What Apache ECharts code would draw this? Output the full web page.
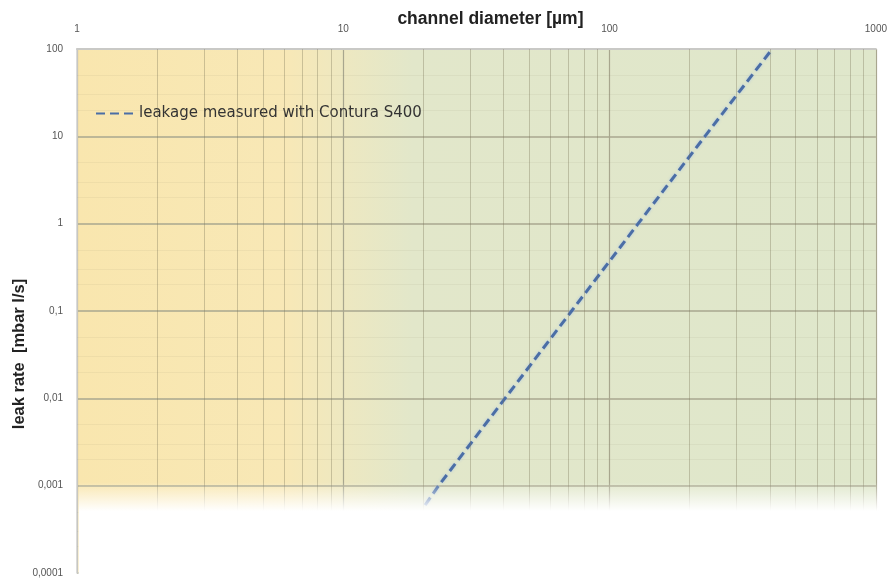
<!DOCTYPE html>
<html>
<head>
<meta charset="utf-8">
<script src="https://cdn.jsdelivr.net/npm/echarts@6/dist/echarts.min.js"></script>
<style>
  html, body { margin: 0; padding: 0; background: #fff; }
  #chart { width: 890px; height: 578px; }
</style>
</head>
<body>
<div id="chart"></div>
<script>
// leak rate vs channel diameter
const diameter = [20.3, 22.8, 40.5, 72, 128, 228, 408];
const leakRate = [0.0006, 0.001, 0.01, 0.1, 1, 10, 100];
const seriesName = 'leakage measured with Contura S400';

// axis ticks
const xTicks = [1, 10, 100, 1000];
const yTicks = [0.0001, 0.001, 0.01, 0.1, 1, 10, 100];
const yTickLabels = ['0,0001', '0,001', '0,01', '0,1', '1', '10', '100'];

// minor grid lines
const xMinor = [2, 3, 4, 5, 6, 7, 8, 9, 20, 30, 40, 50, 60, 70, 80, 90, 200, 300, 400, 500, 600, 700, 800, 900];
const yMinor = [0.0002, 0.0003, 0.0005, 0.002, 0.003, 0.005, 0.02, 0.03, 0.05, 0.2, 0.3, 0.5, 2, 3, 5, 20, 30, 50];

// shaded band bottom and fade range
const shadeBottom = 0.0004;
const fadeFrom = 0.0011;
const fadeTo = 0.00052;

const chart = echarts.init(document.getElementById('chart'));

const sameLog = (a, b) => Math.abs(Math.log10(a) - Math.log10(b)) < 1e-6;

const minorLines = [];
xMinor.forEach(x => {
  minorLines.push([{ coord: [x, shadeBottom] }, { coord: [x, 100] }]);
});
const minorLinesY = [];
yMinor.forEach(y => {
  minorLinesY.push([{ coord: [1, y] }, { coord: [1000, y] }]);
});

const option = {
  animation: false,
  grid: {
    left: 77,
    right: 13,
    top: 49,
    bottom: 4,
    show: true,
    borderWidth: 0,
    backgroundColor: new echarts.graphic.LinearGradient(0, 0, 1, 0, [
      { offset: 0, color: '#f9e6ae' },
      { offset: 0.26, color: '#f8e8b6' },
      { offset: 0.33, color: '#eee8c0' },
      { offset: 0.42, color: '#e2e7ca' },
      { offset: 1, color: '#dfe7cb' }
    ])
  },
  legend: {
    data: [seriesName],
    left: 90,
    top: 101,
    itemWidth: 38,
    itemHeight: 12,
    itemStyle: { opacity: 0 },
    textStyle: { fontFamily: 'DejaVu Sans', fontSize: 15, color: '#333' }
  },
  xAxis: {
    type: 'log',
    logBase: 10,
    min: 1,
    max: 1000,
    position: 'top',
    name: 'channel diameter [µm]',
    nameLocation: 'middle',
    nameGap: 21,
    nameMoveOverlap: false,
    nameTextStyle: {
      fontFamily: 'Liberation Sans', fontWeight: 'bold', fontSize: 17.5, color: '#222',
      padding: [0, 0, 0, 28]
    },
    axisLine: { show: true, lineStyle: { color: '#c9c9c6', width: 2 } },
    axisTick: { show: false },
    axisLabel: {
      color: '#555', fontSize: 10, fontFamily: 'Liberation Sans', margin: 15,
      formatter: v => {
        const t = xTicks.find(t => sameLog(t, v));
        return t ? String(t) : '';
      }
    },
    splitLine: { show: true, lineStyle: { color: '#a8a68e', width: 1.2 } }
  },
  yAxis: {
    type: 'log',
    logBase: 10,
    min: 0.0001,
    max: 100,
    axisLine: { show: true, onZero: false, lineStyle: { color: '#d2d2d2', width: 1.5 } },
    axisTick: { show: false },
    axisLabel: {
      color: '#555', fontSize: 10, fontFamily: 'Liberation Sans', margin: 14,
      formatter: v => {
        const i = yTicks.findIndex(t => sameLog(t, v));
        return i >= 0 ? yTickLabels[i] : '';
      }
    },
    splitLine: { show: true, lineStyle: { color: '#a9a78f', width: 1.5 } }
  },
  series: [
    {
      name: 'minor grid',
      type: 'line',
      data: [],
      z: 1,
      silent: true,
      markLine: {
        silent: true,
        symbol: ['none', 'none'],
        label: { show: false },
        lineStyle: { color: 'rgba(120,115,85,0.35)', type: 'solid', width: 1 },
        data: minorLines
      }
    },
    {
      name: 'minor grid y',
      type: 'line',
      data: [],
      z: 1,
      silent: true,
      markLine: {
        silent: true,
        symbol: ['none', 'none'],
        label: { show: false },
        lineStyle: { color: 'rgba(120,115,85,0.07)', type: 'solid', width: 1 },
        data: minorLinesY
      }
    },
    {
      name: seriesName,
      type: 'line',
      z: 3,
      symbol: 'none',
      data: diameter.map((d, i) => [d, leakRate[i]]),
      lineStyle: {
        color: '#4b6ea6',
        width: 3,
        type: [9, 5],
        shadowColor: 'rgba(160,190,230,0.8)',
        shadowBlur: 3
      },
      itemStyle: { color: '#4b6ea6' }
    }
  ]
};

chart.setOption(option);

// white fade over the lower part of the plot, placed through the axes
const px = (axis, v) => chart.convertToPixel(axis, v);
const left = px({ xAxisIndex: 0 }, 1);
const right = px({ xAxisIndex: 0 }, 1000);
const yStart = px({ yAxisIndex: 0 }, fadeFrom);
const yEnd = px({ yAxisIndex: 0 }, fadeTo);
const yBottom = px({ yAxisIndex: 0 }, 0.0001);
const h = yBottom - yStart;

chart.setOption({
  graphic: [
    {
      type: 'rect',
      z: 100,
      silent: true,
      shape: { x: left + 1.5, y: yStart, width: right - left + 2, height: h + 2 },
      style: {
        fill: new echarts.graphic.LinearGradient(0, 0, 0, 1, [
          { offset: 0, color: 'rgba(255,255,255,0)' },
          { offset: (yEnd - yStart) / h, color: 'rgba(255,255,255,1)' },
          { offset: 1, color: 'rgba(255,255,255,1)' }
        ])
      }
    },
    {
      type: 'text',
      z: 100,
      x: 19,
      y: 354,
      rotation: Math.PI / 2,
      style: {
        text: 'leak rate  [mbar l/s]',
        fontFamily: 'Liberation Sans',
        fontWeight: 'bold',
        fontSize: 16.5,
        fill: '#222',
        align: 'center',
        verticalAlign: 'middle'
      }
    }
  ]
});
</script>
</body>
</html>
